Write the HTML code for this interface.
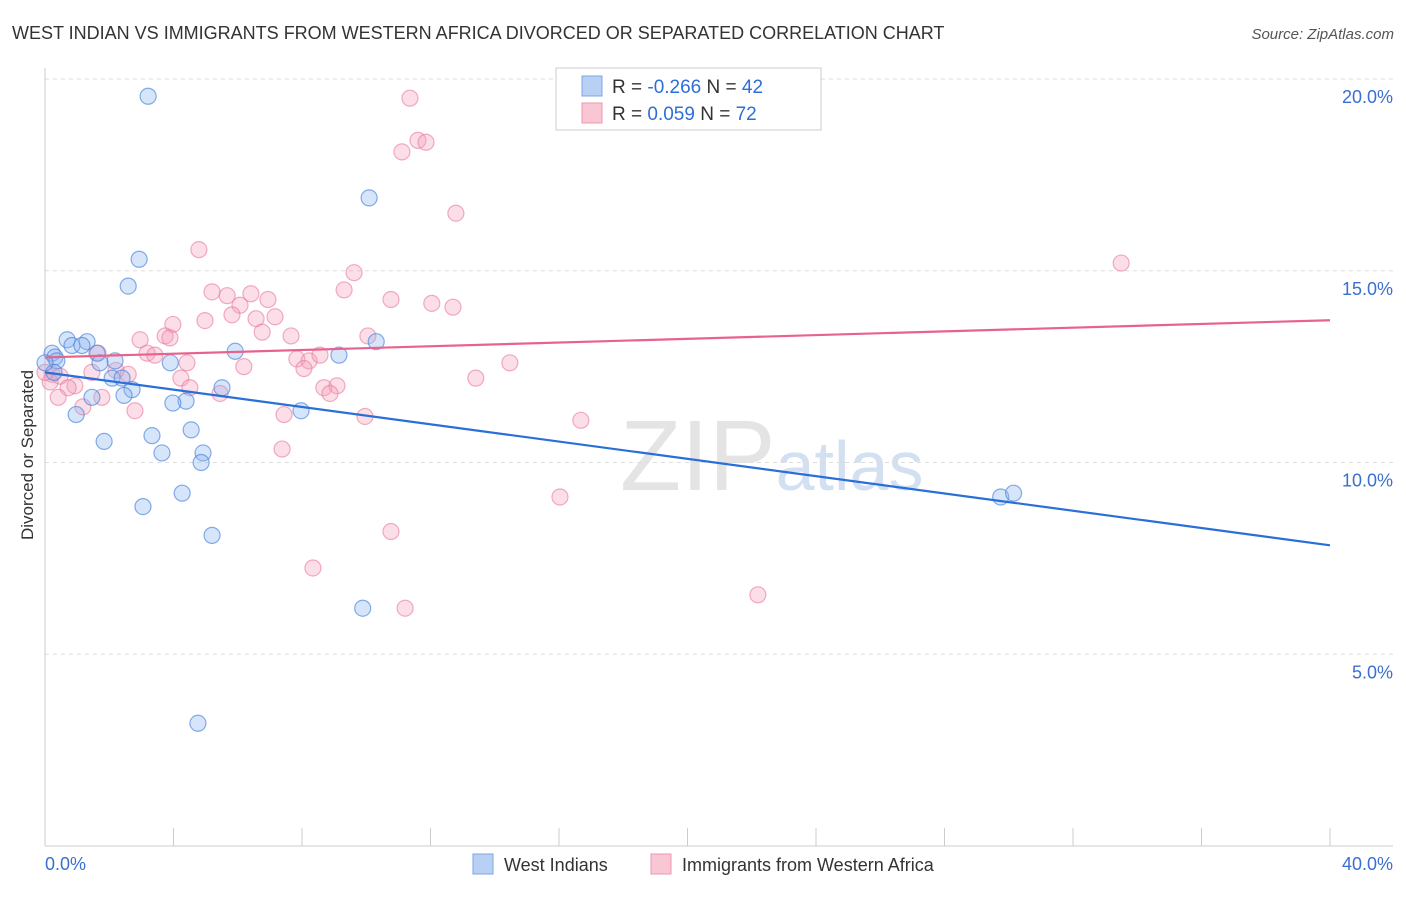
<!DOCTYPE html>
<html><head><meta charset="utf-8"><style>
body{margin:0;background:#fff;font-family:"Liberation Sans",sans-serif;}
svg text{font-family:"Liberation Sans",sans-serif;}
</style></head><body>
<svg width="1406" height="892">
<text x="12" y="39" font-size="18" fill="#333">WEST INDIAN VS IMMIGRANTS FROM WESTERN AFRICA DIVORCED OR SEPARATED CORRELATION CHART</text>
<text x="1394" y="39" font-size="15" fill="#555" font-style="italic" text-anchor="end">Source: ZipAtlas.com</text>
<text x="620" y="490" font-size="100" fill="#e4e4e4" font-family="Liberation Serif">ZIP<tspan fill="#d3e0f2" font-family="Liberation Sans" font-size="70">atlas</tspan></text>
<g id="grid"></g>
<g id="axes"></g>
<g id="pts"></g>
<g id="lines"></g>
<text transform="translate(33,455) rotate(-90)" font-size="17" fill="#333" text-anchor="middle">Divorced or Separated</text>
<text x="45" y="870" font-size="18" fill="#3a6fd0">0.0%</text>
<text x="1393" y="870" font-size="18" fill="#3a6fd0" text-anchor="end">40.0%</text>
<g>
<rect x="556" y="68" width="265" height="62" fill="#fff" stroke="#ccc"/>
<rect x="582" y="76" width="20" height="20" fill="#b8d0f4" stroke="#7fa6e6"/>
<rect x="582" y="103" width="20" height="20" fill="#f9c6d4" stroke="#ee97b0"/>
<text x="612" y="93" font-size="19" fill="#333">R = <tspan fill="#2f6ed8">-0.266</tspan>   N = <tspan fill="#2f6ed8">42</tspan></text>
<text x="612" y="120" font-size="19" fill="#333">R =  <tspan fill="#2f6ed8"> 0.059</tspan>   N = <tspan fill="#2f6ed8">72</tspan></text>
</g>
<g>
<rect x="473" y="854" width="20" height="20" fill="#b8d0f4" stroke="#7fa6e6"/>
<text x="504" y="871" font-size="18" fill="#333">West Indians</text>
<rect x="651" y="854" width="20" height="20" fill="#f9c6d4" stroke="#ee97b0"/>
<text x="682" y="871" font-size="18" fill="#333">Immigrants from Western Africa</text>
</g>
</svg>
<script>
const blueX=[3.21,10.09,2.93,2.59,0.22,0.31,0.37,0.69,0.84,1.31,1.15,1.62,2.18,1.71,0.28,2.09,2.4,2.71,2.46,1.46,0.97,3.9,5.92,5.51,4.39,3.98,7.97,9.15,10.31,3.33,4.55,1.84,3.64,4.92,4.86,4.27,3.05,5.2,9.89,4.76,29.75,30.15,0.0];
const blueY=[19.55,16.9,15.3,14.6,12.85,12.75,12.65,13.2,13.05,13.15,13.05,12.85,12.65,12.6,12.35,12.2,12.2,11.9,11.75,11.7,11.25,12.6,12.9,11.95,11.6,11.55,11.35,12.8,13.15,10.7,10.85,10.55,10.25,10.25,10.0,9.2,8.85,8.1,6.2,3.2,9.1,9.2,12.6];
const pinkX=[11.36,11.11,11.61,11.86,12.79,33.5,4.79,9.62,5.2,5.67,9.31,10.77,12.04,12.7,6.94,6.41,6.07,5.82,6.57,7.16,4.98,3.98,6.76,7.66,10.05,3.74,2.96,3.89,3.18,3.42,1.65,4.42,6.19,7.84,8.22,8.56,8.06,14.47,13.41,0.22,0.47,1.46,2.59,2.21,4.23,4.51,5.45,8.68,9.09,8.87,0.93,0.72,0.41,1.77,1.18,2.8,7.44,9.96,16.68,7.38,16.03,10.77,8.34,11.21,22.19,0.16,0.0];
const pinkY=[19.5,18.1,18.4,18.35,16.5,15.2,15.55,14.95,14.45,14.35,14.5,14.25,14.15,14.05,14.25,14.4,14.1,13.85,13.75,13.8,13.7,13.6,13.4,13.3,13.3,13.3,13.2,13.25,12.85,12.8,12.85,12.6,12.5,12.7,12.65,12.8,12.45,12.6,12.2,12.3,12.25,12.35,12.3,12.4,12.2,11.95,11.8,11.95,12.0,11.8,12.0,11.95,11.7,11.7,11.45,11.35,11.25,11.2,11.1,10.35,9.1,8.2,7.25,6.2,6.55,12.1,12.35];
const blueLine=[12.35,7.84];
const pinkLine=[12.74,13.71];
const yTicks=[5,10,15,20];
const xTicks=[0,4,8,12,16,20,24,28,32,36,40];
const NS="http://www.w3.org/2000/svg";
const sx=v=>45+v*32.125, sy=v=>846-v*38.35;
function mk(t,a,p){const e=document.createElementNS(NS,t);for(const k in a)e.setAttribute(k,a[k]);document.getElementById(p).appendChild(e);return e;}
yTicks.forEach(t=>{
 const l=mk('line',{x1:45,x2:1393,y1:sy(t),y2:sy(t),stroke:'#ddd','stroke-dasharray':'4,4'},'grid');
 
 
 const tx=mk('text',{x:1393,y:sy(t)+24,'font-size':18,fill:'#3a6fd0','text-anchor':'end'},'grid');
 tx.textContent=t.toFixed(1)+'%';
 
 
});
const ax=mk('line',{x1:45,x2:45,y1:68,y2:846,stroke:'#ccc'},'axes');


const bx=mk('line',{x1:45,x2:1393,y1:846,y2:846,stroke:'#ccc'},'axes');


xTicks.forEach(t=>{
 const l=mk('line',{x1:sx(t),x2:sx(t),y1:828,y2:846,stroke:'#ccc'},'axes');
 
 
});
pinkX.forEach((x,i)=>{
 const c=mk('circle',{cx:sx(x),cy:sy(pinkY[i]),r:8,fill:'rgba(244,160,185,0.35)',stroke:'rgba(234,120,155,0.6)','stroke-width':1.2},'pts');
 
 
});
blueX.forEach((x,i)=>{
 const c=mk('circle',{cx:sx(x),cy:sy(blueY[i]),r:8,fill:'rgba(140,180,240,0.35)',stroke:'rgba(70,130,220,0.65)','stroke-width':1.2},'pts');
 
 
});
const bl=mk('line',{x1:sx(0),x2:sx(40),y1:sy(blueLine[0]),y2:sy(blueLine[1]),stroke:'#2a6ed8','stroke-width':2.2},'lines');


const pl=mk('line',{x1:sx(0),x2:sx(40),y1:sy(pinkLine[0]),y2:sy(pinkLine[1]),stroke:'#e8628e','stroke-width':2.2},'lines');


</script>
</body></html>
